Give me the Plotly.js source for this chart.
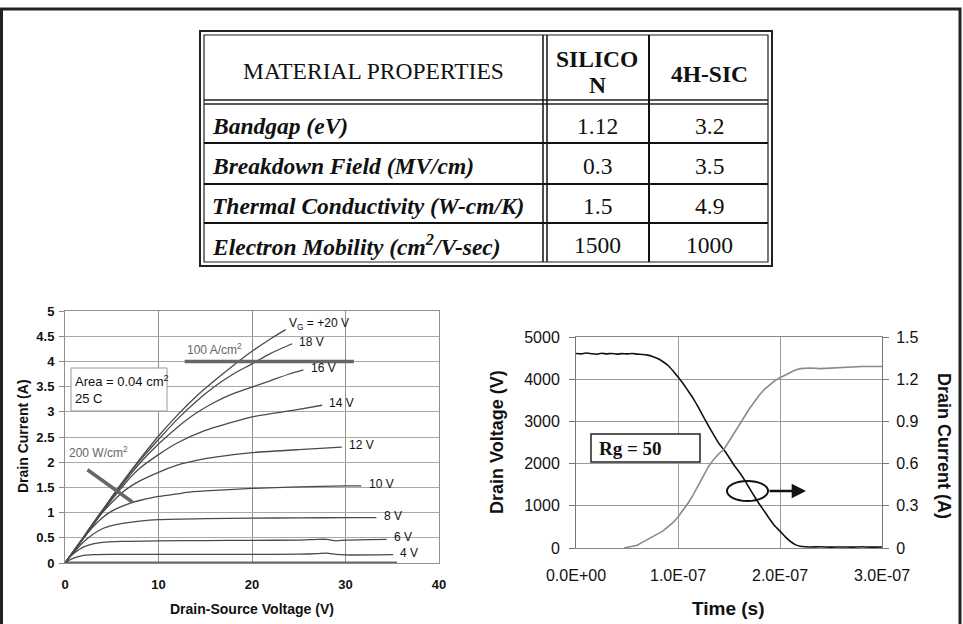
<!DOCTYPE html>
<html>
<head>
<meta charset="utf-8">
<script src="https://cdn.plot.ly/plotly-3.0.1.min.js"></script>
<style>
html,body{margin:0;padding:0;background:#fff;}
#chart{width:963px;height:624px;}
</style>
</head>
<body>
<div id="chart"></div>
<script>
// ---------- Table data ----------
const tableHeader = ["MATERIAL PROPERTIES", "SILICO<br>N", "4H-SIC"];
const properties = ["Bandgap (eV)", "Breakdown Field (MV/cm)", "Thermal Conductivity (W-cm/K)", "Electron Mobility (cm<sup>2</sup>/V-sec)"];
const siliconValues = ["1.12", "0.3", "1.5", "1500"];
const sicValues = ["3.2", "3.5", "4.9", "1000"];

// ---------- Left chart: output characteristics ----------
const vds4  = [0, 0.5, 1, 2, 3, 5, 10, 15, 20, 25, 27, 28, 29, 30, 35.1];
const id4   = [0, 0.06, 0.1, 0.15, 0.165, 0.17, 0.17, 0.17, 0.17, 0.175, 0.185, 0.195, 0.17, 0.16, 0.165];
const vds6  = [0, 0.5, 1, 2, 3, 4, 6, 10, 15, 20, 25, 27, 28, 29, 30, 34.4];
const id6   = [0, 0.12, 0.2, 0.32, 0.38, 0.41, 0.43, 0.44, 0.445, 0.45, 0.455, 0.47, 0.47, 0.44, 0.455, 0.47];
const vds8  = [0, 1, 2, 3, 4, 5, 6, 8, 10, 15, 20, 25, 30, 33.3];
const id8   = [0, 0.22, 0.42, 0.57, 0.68, 0.74, 0.78, 0.83, 0.86, 0.88, 0.89, 0.895, 0.9, 0.9];
const vds10 = [0, 1, 2, 3, 4, 5, 6, 7, 8, 10, 12, 13, 15, 20, 25, 30, 31.7];
const id10  = [0, 0.25, 0.5, 0.72, 0.9, 1.03, 1.12, 1.19, 1.24, 1.32, 1.37, 1.4, 1.43, 1.48, 1.51, 1.53, 1.53];
const vds12 = [0, 1, 2, 3, 4, 5, 6, 7, 8, 10, 12, 13, 15, 18, 20, 25, 29.6];
const id12  = [0, 0.25, 0.5, 0.76, 1.0, 1.2, 1.38, 1.52, 1.63, 1.8, 1.94, 1.99, 2.07, 2.15, 2.19, 2.25, 2.3];
const vds14 = [0, 1, 2, 3, 4, 5, 6, 7, 8, 10, 12, 15, 18, 20, 25, 27.5];
const id14  = [0, 0.25, 0.5, 0.76, 1.02, 1.26, 1.48, 1.7, 1.88, 2.15, 2.38, 2.63, 2.8, 2.9, 3.05, 3.13];
const vds16 = [0, 1, 2, 3, 4, 5, 6, 7, 8, 10, 12, 14, 16, 18, 20, 22, 24, 25.5];
const id16  = [0, 0.25, 0.5, 0.76, 1.02, 1.28, 1.52, 1.76, 1.98, 2.36, 2.69, 2.97, 3.19, 3.36, 3.49, 3.62, 3.75, 3.83];
const vds18 = [0, 1, 2, 3, 4, 5, 6, 7, 8, 10, 12, 14, 16, 18, 20, 22, 24.3];
const id18  = [0, 0.26, 0.52, 0.78, 1.04, 1.3, 1.55, 1.8, 2.03, 2.45, 2.85, 3.2, 3.5, 3.75, 3.95, 4.16, 4.35];
const vds20 = [0, 1, 2, 3, 4, 5, 6, 7, 8, 10, 12, 14, 16, 18, 20, 22, 23.6];
const id20  = [0, 0.26, 0.52, 0.79, 1.05, 1.31, 1.57, 1.82, 2.06, 2.52, 2.93, 3.3, 3.62, 3.92, 4.2, 4.45, 4.63];
const vdsBase = [0, 35.5];
const idBase  = [0, 0];
const curveLabels = ["4 V", "6 V", "8 V", "10 V", "12 V", "14 V", "16 V", "18 V", "V<sub>G</sub> = +20 V"];
const densityLineV = [12.8, 30.9];
const densityLineI = [4, 4];
const powerLineV = [2.4, 7.2];
const powerLineI = [1.85, 1.21];
const densityLabel = "100 A/cm<sup>2</sup>";
const powerLabel = "200 W/cm<sup>2</sup>";
const areaLabel = "Area = 0.04 cm<sup>2</sup><br>25 C";

// ---------- Right chart: switching waveform ----------
const timeV = [0, 5e-9, 1e-8, 1.5e-8, 2e-8, 2.5e-8, 3e-8, 3.5e-8, 4e-8, 4.5e-8, 5e-8, 5.5e-8, 6e-8, 6.5e-8,
  7e-8, 7.5e-8, 8e-8, 8.5e-8, 9e-8, 9.5e-8, 1e-7, 1.05e-7, 1.1e-7, 1.15e-7, 1.2e-7, 1.25e-7, 1.3e-7, 1.35e-7,
  1.4e-7, 1.45e-7, 1.5e-7, 1.55e-7, 1.6e-7, 1.65e-7, 1.7e-7, 1.75e-7, 1.8e-7, 1.85e-7, 1.9e-7, 1.95e-7, 2e-7,
  2.05e-7, 2.1e-7, 2.15e-7, 2.2e-7, 2.25e-7, 2.3e-7, 2.4e-7, 2.5e-7, 2.6e-7, 2.7e-7, 2.8e-7, 2.9e-7, 3e-7];
const drainVoltage = [4610, 4600, 4620, 4605, 4590, 4615, 4600, 4610, 4595, 4605, 4600, 4610, 4595, 4585,
  4570, 4540, 4490, 4420, 4330, 4200, 4050, 3900, 3720, 3540, 3330, 3110, 2890, 2680,
  2480, 2330, 2150, 1960, 1800, 1620, 1420, 1220, 1030, 860, 680, 520, 400,
  270, 160, 80, 40, 30, 25, 30, 20, 25, 20, 30, 20, 25];
const timeI = [4.7e-8, 5e-8, 5.5e-8, 6e-8, 6.5e-8, 7e-8, 7.5e-8, 8e-8, 8.5e-8, 9e-8, 9.5e-8, 1e-7, 1.05e-7,
  1.1e-7, 1.15e-7, 1.2e-7, 1.25e-7, 1.3e-7, 1.35e-7, 1.4e-7, 1.45e-7, 1.5e-7, 1.55e-7, 1.6e-7, 1.65e-7,
  1.7e-7, 1.75e-7, 1.8e-7, 1.85e-7, 1.9e-7, 1.95e-7, 2e-7, 2.05e-7, 2.1e-7, 2.15e-7, 2.2e-7, 2.25e-7,
  2.3e-7, 2.4e-7, 2.5e-7, 2.6e-7, 2.7e-7, 2.8e-7, 2.9e-7, 3e-7];
const drainCurrent = [0, 0.005, 0.01, 0.02, 0.04, 0.06, 0.08, 0.1, 0.12, 0.15, 0.18, 0.22, 0.27,
  0.32, 0.38, 0.45, 0.52, 0.58, 0.63, 0.67, 0.7, 0.76, 0.82, 0.88, 0.94,
  0.99, 1.04, 1.09, 1.13, 1.16, 1.19, 1.21, 1.23, 1.25, 1.265, 1.275, 1.28,
  1.28, 1.275, 1.28, 1.285, 1.29, 1.29, 1.29, 1.29];
const timeTickValues = [0, 1e-7, 2e-7, 3e-7];
const timeTickLabels = ["0.0E+00", "1.0E-07", "2.0E-07", "3.0E-07"];
const currentTickValues = [0, 0.3, 0.6, 0.9, 1.2, 1.5];
const currentTickLabels = ["0", "0.3", "0.6", "0.9", "1.2", "1.5"];
const gateLabel = "Rg = 50";

// ---------- helpers ----------
const W = 963, H = 624;
const PX = x => x / W;
const PY = y => 1 - y / H;
const SANS = "Liberation Sans, Arial, sans-serif";
const SERIF = "Liberation Serif, Times New Roman, serif";

// ---------- traces ----------
const leftCurves = [[vds4, id4], [vds6, id6], [vds8, id8], [vds10, id10], [vds12, id12],
                    [vds14, id14], [vds16, id16], [vds18, id18], [vds20, id20]];
const traces = [];
traces.push({x: vdsBase, y: idBase, xaxis: 'x', yaxis: 'y', mode: 'lines',
  line: {color: '#666', width: 3}, hoverinfo: 'skip'});
leftCurves.forEach(c => traces.push({x: c[0], y: c[1], xaxis: 'x', yaxis: 'y', mode: 'lines',
  line: {color: '#4a4a4a', width: 1.3, shape: 'spline', smoothing: 0.6}, hoverinfo: 'skip'}));
traces.push({x: densityLineV, y: densityLineI, xaxis: 'x', yaxis: 'y', mode: 'lines',
  line: {color: '#666', width: 3.5}, hoverinfo: 'skip'});
traces.push({x: powerLineV, y: powerLineI, xaxis: 'x', yaxis: 'y', mode: 'lines',
  line: {color: '#666', width: 3.5}, hoverinfo: 'skip'});
traces.push({x: timeI, y: drainCurrent, xaxis: 'x2', yaxis: 'y3', mode: 'lines',
  line: {color: '#8a8a8a', width: 1.6}, hoverinfo: 'skip'});
traces.push({x: timeV, y: drainVoltage, xaxis: 'x2', yaxis: 'y2', mode: 'lines',
  line: {color: '#111', width: 1.6, shape: 'spline', smoothing: 0.4}, hoverinfo: 'skip'});

// ---------- shapes ----------
const shapes = [];
const pline = (x0, y0, x1, y1, w, c) => shapes.push({type: 'line', xref: 'paper', yref: 'paper',
  x0: PX(x0), y0: PY(y0), x1: PX(x1), y1: PY(y1), line: {color: c || '#111', width: w}, layer: 'above'});
const prect = (x0, y0, x1, y1, w, c, fill, layer) => shapes.push({type: 'rect', xref: 'paper', yref: 'paper',
  x0: PX(x0), y0: PY(y0), x1: PX(x1), y1: PY(y1), line: {color: c || '#111', width: w},
  fillcolor: fill || 'rgba(0,0,0,0)', layer: layer || 'above'});

// outer frame
prect(1.5, 9, 960, 660, 3, '#222');
// table
prect(200, 31, 772, 266, 2, '#222');
prect(204, 35, 768, 262, 1.2, '#222');
pline(204, 100, 768, 100, 1.6, '#222');
pline(204, 104, 768, 104, 1.6, '#222');
pline(543, 35, 543, 262, 1.5);
pline(547, 35, 547, 262, 1.5);
pline(649, 35, 649, 262, 2);
[143, 184, 223].forEach(y => pline(204, y, 768, y, 2));
// left chart area box
prect(71, 368, 167, 411, 1, '#999', '#fff');
// right chart Rg box, ellipse
prect(591, 434, 700, 462, 1.5, '#222', '#fff');
shapes.push({type: 'circle', xref: 'paper', yref: 'paper', x0: PX(727), x1: PX(768), y0: PY(481), y1: PY(501),
  line: {color: '#111', width: 2}});

// ---------- annotations ----------
const ann = [];
const add = a => ann.push(Object.assign({xanchor: 'center', yanchor: 'middle', showarrow: false}, a));
const TS = 23.5;
const tfont = size => ({family: SERIF, size: size, color: '#111'});
add({xref: 'paper', yref: 'paper', x: PX(373.5), y: PY(71), text: tableHeader[0], font: tfont(TS)});
const headLines = tableHeader[1].split('<br>');
add({xref: 'paper', yref: 'paper', x: PX(597), y: PY(59), text: '<b>' + headLines[0] + '</b>', font: tfont(TS)});
add({xref: 'paper', yref: 'paper', x: PX(597), y: PY(85), text: '<b>' + headLines[1] + '</b>', font: tfont(TS)});
add({xref: 'paper', yref: 'paper', x: PX(709), y: PY(74), text: '<b>' + tableHeader[2] + '</b>', font: tfont(TS)});
const rowY = [126, 166, 206, 245];
properties.forEach((p, i) => {
  add({xref: 'paper', yref: 'paper', x: PX(210), y: PY(rowY[i]), xanchor: 'left', text: '<b><i>' + p + '</i></b>',
    font: tfont(TS)});
  add({xref: 'paper', yref: 'paper', x: PX(597), y: PY(rowY[i]), text: siliconValues[i], font: tfont(TS)});
  add({xref: 'paper', yref: 'paper', x: PX(709), y: PY(rowY[i]), text: sicValues[i], font: tfont(TS)});
});

// left chart labels
leftCurves.forEach((c, i) => {
  const n = c[0].length;
  const top = i === leftCurves.length - 1;
  add({xref: 'x', yref: 'y', x: c[0][n - 1] + (top ? 0.1 : 0.55), y: c[1][n - 1], xanchor: 'left',
    yshift: top ? 6 : 2, text: curveLabels[i], font: {family: SANS, size: 12, color: '#111'}});
});
add({xref: 'x', yref: 'y', x: densityLineV[0], y: densityLineI[0], xanchor: 'left', yanchor: 'bottom', yshift: 2,
  text: densityLabel, font: {family: SANS, size: 12, color: '#666'}});
add({xref: 'x', yref: 'y', x: 0.25, y: powerLineI[0], xanchor: 'left', yanchor: 'bottom', yshift: 8,
  text: powerLabel, font: {family: SANS, size: 12, color: '#666'}});
add({xref: 'paper', yref: 'paper', x: PX(73), y: PY(389), xanchor: 'left', align: 'left',
  text: areaLabel, font: {family: SANS, size: 13, color: '#111'}});
add({xref: 'paper', yref: 'paper', x: PX(23), y: PY(436), textangle: -90, text: '<b>Drain Current (A)</b>',
  font: {family: SANS, size: 14, color: '#111'}});
add({xref: 'paper', yref: 'paper', x: PX(252), y: PY(609), text: '<b>Drain-Source Voltage (V)</b>',
  font: {family: SANS, size: 14, color: '#111'}});

// right chart labels
add({xref: 'paper', yref: 'paper', x: PX(597), y: PY(448), xanchor: 'left', text: '<b>' + gateLabel + '</b>',
  font: tfont(19)});
ann.push({xref: 'paper', yref: 'paper', x: PX(806), y: PY(491), ax: -38, ay: 0, text: '', showarrow: true,
  arrowhead: 2, arrowsize: 1.1, arrowwidth: 2.6, arrowcolor: '#111'});
add({xref: 'paper', yref: 'paper', x: PX(497), y: PY(442), textangle: -90, text: '<b>Drain Voltage (V)</b>',
  font: {family: SANS, size: 18, color: '#111'}});
add({xref: 'paper', yref: 'paper', x: PX(944), y: PY(446), textangle: 90, text: '<b>Drain Current (A)</b>',
  font: {family: SANS, size: 18, color: '#111'}});
add({xref: 'paper', yref: 'paper', x: PX(728), y: PY(608), text: '<b>Time (s)</b>',
  font: {family: SANS, size: 19, color: '#111'}});

// ---------- layout ----------
const leftTick = {family: SANS, size: 13, color: '#111', weight: 'bold'};
const rightTick = {family: SANS, size: 16, color: '#111'};
const layout = {
  width: W, height: H,
  margin: {l: 0, r: 0, t: 0, b: 0},
  paper_bgcolor: '#fff', plot_bgcolor: '#fff',
  showlegend: false,
  xaxis: {domain: [PX(65), PX(439)], range: [0, 40], dtick: 10, anchor: 'y',
    showgrid: true, gridcolor: '#8f8f8f', gridwidth: 1, zeroline: false,
    showline: true, mirror: true, linecolor: '#8f8f8f', linewidth: 1,
    ticks: '', ticklabelstandoff: 9, tickfont: leftTick, fixedrange: true},
  yaxis: {domain: [PY(563), PY(311)], range: [0, 5], dtick: 0.5, anchor: 'x',
    showgrid: true, gridcolor: '#a8a8a8', gridwidth: 1, zeroline: false,
    showline: true, mirror: true, linecolor: '#8f8f8f', linewidth: 1,
    ticks: 'outside', ticklen: 5, tickcolor: '#888', ticklabelstandoff: 2, tickfont: leftTick, fixedrange: true},
  xaxis2: {domain: [PX(576), PX(882)], range: [0, 3e-7], anchor: 'y2',
    tickvals: timeTickValues, ticktext: timeTickLabels,
    showgrid: true, gridcolor: '#9a9a9a', gridwidth: 1, zeroline: false,
    showline: true, mirror: true, linecolor: '#888', linewidth: 1,
    ticks: '', ticklabelstandoff: 13, tickfont: rightTick, fixedrange: true},
  yaxis2: {domain: [PY(548), PY(337)], range: [0, 5000], dtick: 1000, anchor: 'x2',
    showgrid: true, gridcolor: '#9a9a9a', gridwidth: 1, zeroline: false,
    showline: true, linecolor: '#777', linewidth: 1,
    ticks: 'outside', ticklen: 6, tickcolor: '#777', ticklabelstandoff: 6, tickfont: rightTick, fixedrange: true},
  yaxis3: {overlaying: 'y2', side: 'right', range: [0, 1.5], anchor: 'x2',
    tickvals: currentTickValues, ticktext: currentTickLabels,
    showgrid: false, zeroline: false, showline: true, linecolor: '#777', linewidth: 1,
    ticks: 'outside', ticklen: 6, tickcolor: '#777', ticklabelstandoff: 4, tickfont: rightTick, fixedrange: true},
  shapes: shapes,
  annotations: ann
};

Plotly.newPlot('chart', traces, layout, {displayModeBar: false, staticPlot: true});
</script>
</body>
</html>
